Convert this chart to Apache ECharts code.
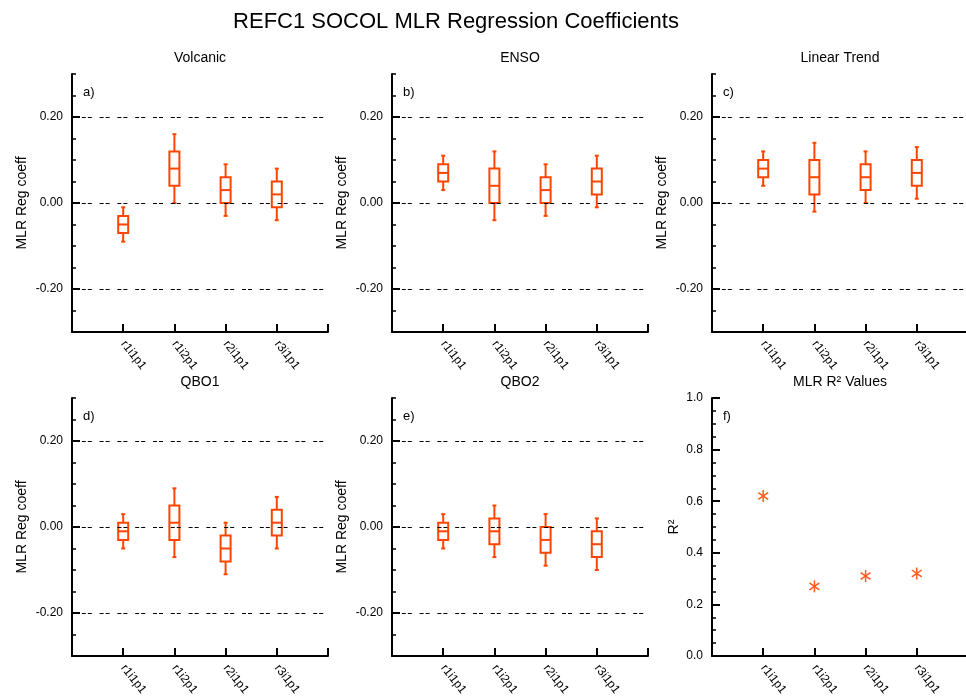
<!DOCTYPE html>
<html>
<head>
<meta charset="utf-8">
<script src="https://cdn.jsdelivr.net/npm/echarts@6/dist/echarts.min.js"></script>
<style>html,body{margin:0;padding:0;background:#fff}#c{width:966px;height:698px}</style>
</head>
<body>
<div id="c"></div>
<script>
// ---- data ----
const categories = ['r1i1p1', 'r1i2p1', 'r2i1p1', 'r3i1p1'];
// each row: [whisker low, q1, median, q3, whisker high]
const volcanic = [[-0.09, -0.07, -0.05, -0.03, -0.01], [0.00, 0.04, 0.08, 0.12, 0.16], [-0.03, 0.00, 0.03, 0.06, 0.09], [-0.04, -0.01, 0.02, 0.05, 0.08]];
const enso = [[0.03, 0.05, 0.07, 0.09, 0.11], [-0.04, 0.00, 0.04, 0.08, 0.12], [-0.03, 0.00, 0.03, 0.06, 0.09], [-0.01, 0.02, 0.05, 0.08, 0.11]];
const linearTrend = [[0.04, 0.06, 0.08, 0.10, 0.12], [-0.02, 0.02, 0.06, 0.10, 0.14], [0.00, 0.03, 0.06, 0.09, 0.12], [0.01, 0.04, 0.07, 0.10, 0.13]];
const qbo1 = [[-0.05, -0.03, -0.01, 0.01, 0.03], [-0.07, -0.03, 0.01, 0.05, 0.09], [-0.11, -0.08, -0.05, -0.02, 0.01], [-0.05, -0.02, 0.01, 0.04, 0.07]];
const qbo2 = [[-0.05, -0.03, -0.01, 0.01, 0.03], [-0.07, -0.04, -0.01, 0.02, 0.05], [-0.09, -0.06, -0.03, 0.00, 0.03], [-0.10, -0.07, -0.04, -0.01, 0.02]];
const r2Values = [0.62, 0.27, 0.31, 0.32];
const coefTicks = [-0.2, 0, 0.2];
const r2Ticks = [0, 0.2, 0.4, 0.6, 0.8, 1.0];
const panelTitles = ['Volcanic', 'ENSO', 'Linear Trend', 'QBO1', 'QBO2', 'MLR R\u00B2 Values'];
const panelLetters = ['a)', 'b)', 'c)', 'd)', 'e)', 'f)'];
const mainTitle = 'REFC1 SOCOL MLR Regression Coefficients';

// ---- layout ----
const FONT = '"Liberation Sans", Arial, Helvetica, sans-serif';
const COLOR = '#ff4500';
const lefts = [72, 392, 712];
const tops = [74, 398];
const GW = 256, GH = 258;

const chart = echarts.init(document.getElementById('c'), null, {renderer: 'canvas'});

const grids = [], xAxes = [], yAxes = [], series = [], graphics = [];

function boxRender(params, api) {
  const x = api.value(0);
  const lo = api.coord([x, api.value(1)]);
  const q1 = api.coord([x, api.value(2)]);
  const md = api.coord([x, api.value(3)]);
  const q3 = api.coord([x, api.value(4)]);
  const hi = api.coord([x, api.value(5)]);
  const bw = 10, cw = 4;
  const st = {stroke: COLOR, lineWidth: 2, fill: null};
  const cx = md[0];
  return {
    type: 'group',
    children: [
      {type: 'rect', shape: {x: cx - bw / 2, y: q3[1], width: bw, height: q1[1] - q3[1]}, style: st},
      {type: 'line', shape: {x1: cx - bw / 2, y1: md[1], x2: cx + bw / 2, y2: md[1]}, style: st},
      {type: 'line', shape: {x1: cx, y1: q3[1], x2: cx, y2: hi[1]}, style: st},
      {type: 'line', shape: {x1: cx, y1: q1[1], x2: cx, y2: lo[1]}, style: st},
      {type: 'line', shape: {x1: cx - cw / 2, y1: hi[1], x2: cx + cw / 2, y2: hi[1]}, style: st},
      {type: 'line', shape: {x1: cx - cw / 2, y1: lo[1], x2: cx + cw / 2, y2: lo[1]}, style: st}
    ]
  };
}

function starRender(params, api) {
  const p = api.coord([api.value(0), api.value(1)]);
  const r = 6;
  const st = {stroke: '#ff5a1f', lineWidth: 1.5};
  const kids = [];
  [90, 35, -35].forEach(function (deg) {
    const a = deg * Math.PI / 180;
    const dx = r * Math.cos(a), dy = r * Math.sin(a);
    kids.push({type: 'line', shape: {x1: p[0] - dx, y1: p[1] - dy, x2: p[0] + dx, y2: p[1] + dy}, style: st});
  });
  return {type: 'group', children: kids};
}

const boxPanels = [volcanic, enso, linearTrend, qbo1, qbo2];

for (let i = 0; i < 6; i++) {
  const row = Math.floor(i / 3), col = i % 3;
  grids.push({left: lefts[col], top: tops[row], width: GW, height: GH, containLabel: false, outerBoundsMode: 'none'});
  xAxes.push({
    type: 'value', gridIndex: i, min: 0, max: 5, interval: 1,
    axisLine: {show: true, onZero: false, lineStyle: {color: '#000', width: 2}},
    axisTick: {show: true, inside: true, length: 8, lineStyle: {color: '#000', width: 2}},
    axisLabel: {show: true, rotate: -52, margin: 10, fontSize: 12, color: '#000', fontFamily: FONT,
      formatter: function (v) { return categories[Math.round(v) - 1] || ''; }},
    splitLine: {show: false}
  });
  const isR2 = i === 5;
  const ymin = isR2 ? 0 : -0.3, ymax = isR2 ? 1 : 0.3;
  const majors = isR2 ? r2Ticks : coefTicks;
  // minor tick axis
  yAxes.push({
    type: 'value', gridIndex: i, position: 'left', offset: 0, min: ymin, max: ymax, interval: 0.05,
    axisLine: {show: true, onZero: false, lineStyle: {color: '#000', width: 2}},
    axisTick: {show: true, inside: true, length: 4, lineStyle: {color: '#000', width: 1.5}},
    axisLabel: {show: false},
    splitLine: {show: false}
  });
  // major tick + label axis
  yAxes.push({
    type: 'value', gridIndex: i, position: 'left', offset: 0, min: ymin, max: ymax, interval: 0.05,
    axisLine: {show: false},
    axisTick: {show: true, inside: true, length: 8, customValues: majors, lineStyle: {color: '#000', width: 2}},
    axisLabel: {show: true, customValues: majors, margin: 9, fontSize: 12, color: '#000', fontFamily: FONT,
      formatter: function (v) { return v.toFixed(isR2 ? 1 : 2); }},
    splitLine: {show: false},
    name: isR2 ? 'R\u00B2' : 'MLR Reg coeff',
    nameLocation: 'middle', nameRotate: 90, nameGap: isR2 ? 31 : 43,
    nameTextStyle: {fontSize: 14, color: '#000', fontFamily: FONT}
  });
  if (!isR2) {
    const d = boxPanels[i].map(function (r, k) { return [k + 1].concat(r); });
    series.push({
      type: 'custom', xAxisIndex: i, yAxisIndex: 2 * i, renderItem: boxRender, data: d,
      encode: {x: 0, y: [1, 2, 3, 4, 5]}, z: 3, silent: true,
      markLine: {
        silent: true, symbol: 'none', label: {show: false}, animation: false,
        lineStyle: {color: '#000', width: 1, type: [4, 2, 4, 7.8], dashOffset: 8},
        emphasis: {disabled: true},
        data: coefTicks.map(function (v) { return {yAxis: v}; })
      }
    });
  } else {
    const d = r2Values.map(function (v, k) { return [k + 1, v]; });
    series.push({
      type: 'custom', xAxisIndex: i, yAxisIndex: 2 * i, renderItem: starRender, data: d,
      encode: {x: 0, y: 1}, z: 3, silent: true
    });
  }
  graphics.push({type: 'text', x: lefts[col] + GW / 2, y: tops[row] - 16, silent: true,
    style: {text: panelTitles[i], font: '14px ' + FONT, fill: '#000', align: 'center', verticalAlign: 'middle'}});
  graphics.push({type: 'text', x: lefts[col] + 11, y: tops[row] + 18, silent: true,
    style: {text: panelLetters[i], font: '13px ' + FONT, fill: '#000', align: 'left', verticalAlign: 'middle'}});
}

graphics.push({type: 'text', x: 456, y: 22, silent: true,
  style: {text: mainTitle, font: '22px ' + FONT, fill: '#000', align: 'center', verticalAlign: 'middle'}});

chart.setOption({
  animation: false,
  backgroundColor: '#fff',
  grid: grids,
  xAxis: xAxes,
  yAxis: yAxes,
  series: series,
  graphic: graphics
});
</script>
</body>
</html>
